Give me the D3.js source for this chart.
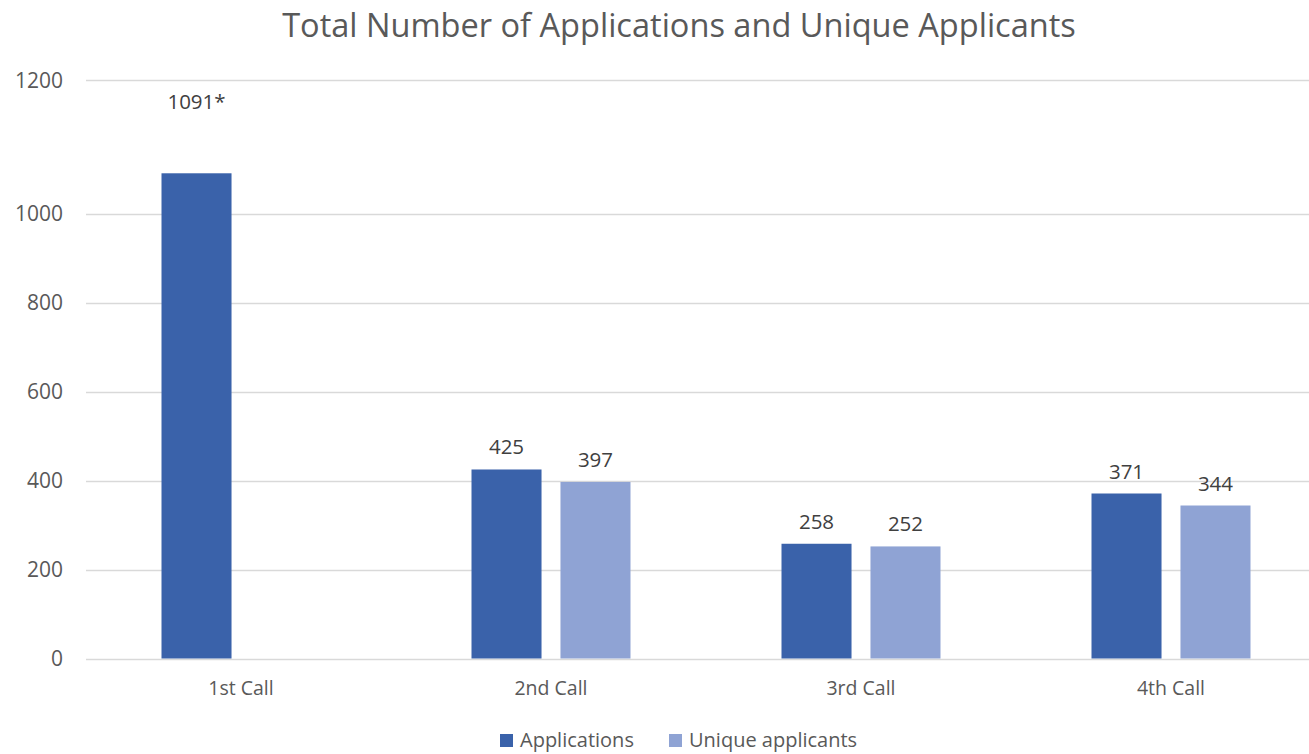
<!DOCTYPE html>
<html>
<head>
<meta charset="utf-8">
<script src="https://cdn.jsdelivr.net/npm/d3@7"></script>
<style>
  html, body { margin: 0; padding: 0; background: #fff; }
  svg { display: block; font-family: "Open Sans", sans-serif; }
</style>
</head>
<body>
<svg id="chart" width="1309" height="754"></svg>
<script>
// ---- data ----
const categories = ["1st Call", "2nd Call", "3rd Call", "4th Call"];
const seriesNames = ["Applications", "Unique applicants"];
const applications = [1091, 425, 258, 371];
const uniqueApplicants = [null, 397, 252, 344];
const valueLabels = [["1091*", "425", "258", "371"], [null, "397", "252", "344"]];
const tickValues = [0, 200, 400, 600, 800, 1000, 1300];
const tickLabels = ["0", "200", "400", "600", "800", "1000", "1200"];
const titleText = "Total Number of Applications and Unique Applicants";

// ---- layout / style ----
const W = 1309, H = 754;
const margin = { left: 86, right: -17, top: 79, bottom: 95 };
const colors = ["#3A62AA", "#8FA3D4"];
const textColor = "#595959";
const gridColor = "#D9D9D9";
const starLabelLift = 49;

const svg = d3.select("#chart");

const y = d3.scaleLinear().domain([0, 1303]).range([H - margin.bottom - 0.5, margin.top]);
const x0 = d3.scaleBand().domain(categories).range([margin.left, W - margin.right]).paddingInner(0).paddingOuter(0);
const x1 = d3.scaleBand().domain(seriesNames).range([-79.5, 79.5]).paddingInner(0.213);

// gridlines
svg.append("g").selectAll("line").data(tickValues).join("line")
  .attr("x1", margin.left).attr("x2", W)
  .attr("y1", d => Math.round(y(d)) + 0.5).attr("y2", d => Math.round(y(d)) + 0.5)
  .attr("stroke", gridColor).attr("stroke-width", 1.5);

// y axis labels
const yAxis = d3.axisLeft(y).tickValues(tickValues).tickFormat((d, i) => tickLabels[i]).tickSize(0).tickPadding(0);
const gy = svg.append("g").attr("transform", `translate(63,0)`).call(yAxis);
gy.select(".domain").remove();
gy.selectAll("text").attr("fill", textColor).style("font-size", "21px").style("font-family", "'Open Sans', sans-serif");

// x axis labels
const xAxis = d3.axisBottom(x0).tickSize(0).tickPadding(0);
const gx = svg.append("g").attr("transform", `translate(0,${y(0) + 23})`).call(xAxis);
gx.select(".domain").remove();
gx.selectAll("text").attr("fill", textColor).style("font-size", "19.5px").style("font-family", "'Open Sans', sans-serif");

// bars
const seriesData = [applications, uniqueApplicants];
seriesData.forEach((vals, si) => {
  const g = svg.append("g");
  const rows = categories.map((c, i) => ({ c, v: vals[i], label: valueLabels[si][i] })).filter(d => d.v != null);
  g.selectAll("rect").data(rows).join("rect")
    .attr("x", d => x0(d.c) + x0.bandwidth() / 2 + x1(seriesNames[si]))
    .attr("width", x1.bandwidth())
    .attr("y", d => y(d.v))
    .attr("height", d => y(0) - y(d.v))
    .attr("fill", colors[si]);
  g.selectAll("text").data(rows).join("text")
    .attr("x", d => x0(d.c) + x0.bandwidth() / 2 + x1(seriesNames[si]) + x1.bandwidth() / 2)
    .attr("y", d => y(d.v) - 15 - (d.label.includes("*") ? starLabelLift : 0))
    .attr("text-anchor", "middle")
    .attr("fill", "#404040")
    .style("font-size", "20.5px")
    .text(d => d.label);
});

// title
const title = svg.append("text")
  .attr("x", 679).attr("y", 37)
  .attr("text-anchor", "middle")
  .attr("fill", textColor)
  .style("font-size", "30px")
  .text(titleText);
const tl = title.node().getComputedTextLength();
title.style("font-size", (30 * 794 / tl) + "px");

// legend
const legend = svg.append("g");
const legX = [500, 669];
seriesNames.forEach((name, i) => {
  legend.append("rect").attr("x", legX[i]).attr("y", 734).attr("width", 13).attr("height", 13).attr("fill", colors[i]);
  legend.append("text").attr("x", legX[i] + 20).attr("y", 747)
    .attr("fill", textColor).style("font-size", "20px").text(name);
});
</script>
</body>
</html>
